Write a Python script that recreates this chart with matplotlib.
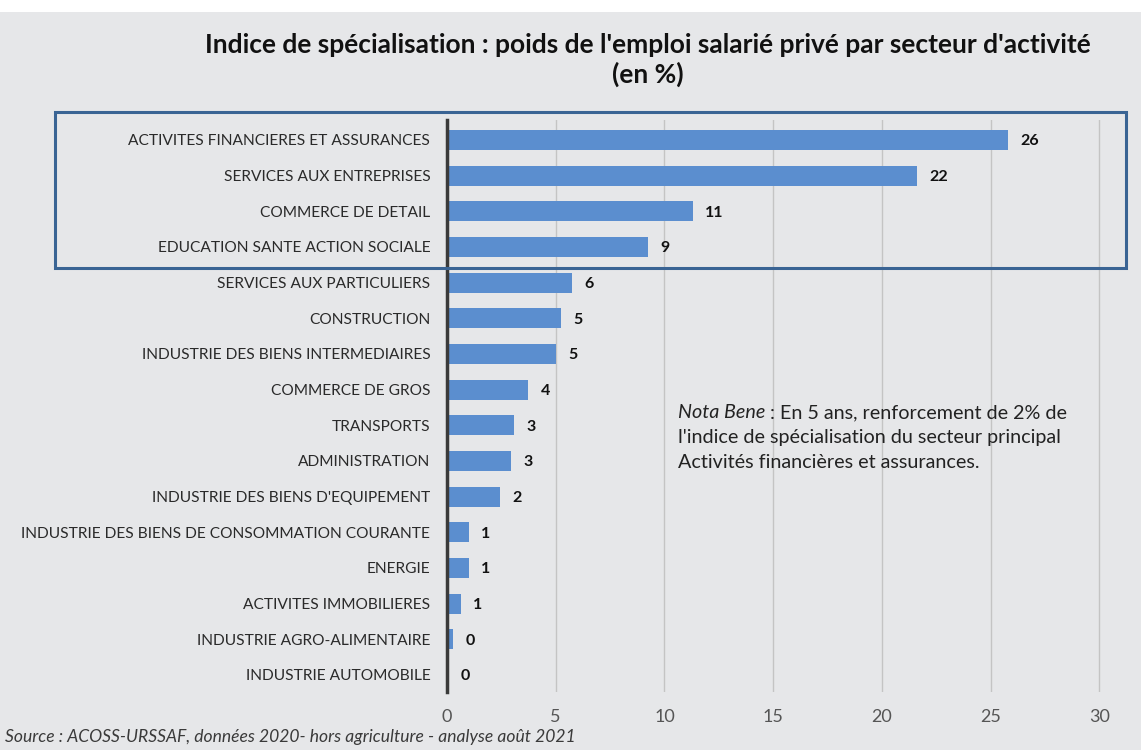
import matplotlib
matplotlib.use("Agg")
import matplotlib.pyplot as plt
from matplotlib.patches import Rectangle

# Sector data: private-sector employment specialisation index (%)
sectors = [
    "ACTIVITES FINANCIERES ET ASSURANCES",
    "SERVICES AUX ENTREPRISES",
    "COMMERCE DE DETAIL",
    "EDUCATION SANTE ACTION SOCIALE",
    "SERVICES AUX PARTICULIERS",
    "CONSTRUCTION",
    "INDUSTRIE DES BIENS INTERMEDIAIRES",
    "COMMERCE DE GROS",
    "TRANSPORTS",
    "ADMINISTRATION",
    "INDUSTRIE DES BIENS D'EQUIPEMENT",
    "INDUSTRIE DES BIENS DE CONSOMMATION COURANTE",
    "ENERGIE",
    "ACTIVITES IMMOBILIERES",
    "INDUSTRIE AGRO-ALIMENTAIRE",
    "INDUSTRIE AUTOMOBILE",
]
values = [25.8, 21.6, 11.3, 9.25, 5.75, 5.25, 5.0, 3.73, 3.1, 2.95,
          2.44, 1.0, 1.0, 0.63, 0.27, 0.05]
x_ticks = [0, 5, 10, 15, 20, 25, 30]

title = ("Indice de spécialisation : poids de l'emploi salarié privé "
         "par secteur d'activité\n(en %)")
note_italic = "Nota Bene"
note_line1 = " : En 5 ans, renforcement de 2% de"
note_lines = ["l'indice de spécialisation du secteur principal",
              "Activités financières et assurances."]
source = "Source : ACOSS-URSSAF, données 2020- hors agriculture - analyse août 2021"

FONT = ["Lato", "DejaVu Sans"]
plt.rcParams["font.family"] = FONT

W, H = 1141, 750
fig = plt.figure(figsize=(W / 100, H / 100), dpi=100, facecolor="#e6e7e9")

# white strip along the top edge
fig.add_artist(Rectangle((0, 1 - 12 / H), 1, 12 / H, transform=fig.transFigure,
                         facecolor="white", edgecolor="none", zorder=0))

left_px, right_px, top_px, bottom_px = 447, 1121, 120, 692
ax = fig.add_axes([left_px / W, 1 - bottom_px / H,
                   (right_px - left_px) / W, (bottom_px - top_px) / H])
ax.set_facecolor("none")

ypos = list(range(len(sectors)))
ax.barh(ypos, values, height=0.56, color="#5b8ecf", zorder=3)

for y, v in zip(ypos, values):
    ax.annotate(f"{v:.0f}", xy=(v, y), xytext=(9, -1), textcoords="offset points",
                ha="left", va="center", fontsize=11.5, fontweight="bold",
                color="#111111", zorder=4)

ax.set_xlim(0, 31)
ax.set_ylim(15.48, -0.56)
ax.set_xticks(x_ticks)
ax.set_xticklabels([str(t) for t in x_ticks], fontsize=13, color="#555555")
ax.set_yticks(ypos)
ax.set_yticklabels(sectors, fontsize=11.2, color="#2a2a2a")
ax.tick_params(axis="both", length=0)
ax.tick_params(axis="x", pad=12)
ax.tick_params(axis="y", pad=12)

ax.xaxis.grid(True, color="#c4c4c4", linewidth=1.0, zorder=0)
ax.set_axisbelow(True)
for side in ("top", "right", "bottom"):
    ax.spines[side].set_visible(False)
ax.spines["left"].set_color("#3a3a3a")
ax.spines["left"].set_linewidth(2.5)
ax.spines["left"].set_zorder(5)

# highlight frame around the four leading sectors
fig.add_artist(Rectangle((55 / W, 1 - 268 / H), (1126 - 55) / W, (268 - 112) / H,
                         transform=fig.transFigure, fill=False,
                         edgecolor="#3a6494", linewidth=2.2, zorder=6))

fig.text(648 / W, 1 - 60 / H, title, ha="center", va="center", fontsize=19,
         fontweight="bold", color="#111111", linespacing=1.25)

# note: italic lead-in followed by regular text
note_x, note_y0, note_dy = 678 / W, 1 - 418 / H, 25 / H
t1 = fig.text(note_x, note_y0, note_italic, ha="left", va="baseline",
              fontsize=14.2, style="italic", color="#222222")
ax.annotate(note_line1, xy=(1, 0), xycoords=t1, ha="left", va="bottom",
            fontsize=14.2, color="#222222", annotation_clip=False)
for i, line in enumerate(note_lines, start=1):
    fig.text(note_x, note_y0 - i * note_dy, line, ha="left", va="baseline",
             fontsize=14.2, color="#222222")

fig.text(5 / W, 1 - 742 / H, source, ha="left", va="baseline", fontsize=12.6,
         style="italic", color="#3a3a3a")

fig.savefig("out.png", dpi=100, facecolor=fig.get_facecolor())
